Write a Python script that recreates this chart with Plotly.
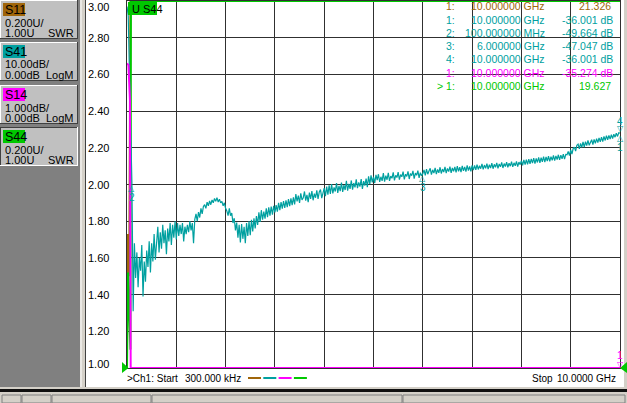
import numpy as np
import plotly.graph_objects as go

# =====================================================
# VNA SCREEN: S41 (LogM) WITH S11 / S14 / S44 CLIPPED
# =====================================================

# sweep (GHz)
start_ghz = 0.0003
stop_ghz = 10.0

# S41 transmission, dB (401 point sweep)
s41_db = [
    -1.5, -4.0, -20.0, -33.0, -49.7, -84.5,
    -66.0, -75.5, -68.5, -78.0, -70.0, -73.5, -66.5, -80.5, -71.0, -76.5, -68.0,
    -72.5, -65.5, -74.0, -66.0, -71.0, -63.5, -70.5, -66.5,
    -61.5, -68.5, -63.0, -67.5, -61.0, -66.0, -62.5, -69.0, -62.0, -65.5, -60.5, -66.5, -61.0, -64.5, -60.0, -65.0,
    -60.5, -64.0, -61.0, -63.5, -60.5, -65.5, -61.5, -63.5,
    -61.0, -63.0, -60.0, -62.5, -60.5, -66.0, -59.5,
    -58.0, -60.0, -57.5, -59.0, -56.5, -58.0, -56.0,
    -55.5, -56.5, -54.8, -55.8, -54.5, -55.5, -54.2, -55.0,
    -53.8, -54.6, -53.6, -54.8, -54.0, -55.0,
    -54.6, -55.8, -55.0, -56.5, -57.2, -58.5,
    -56.5, -58.5, -57.8, -60.5, -59.2, -62.5, -60.4, -64.5,
    -61.0, -65.8, -60.8, -64.8, -61.5, -66.0, -60.5, -64.0,
    -60.0, -63.8, -59.6, -62.8, -59.2, -62.0, -58.6, -61.0,
    -57.6, -60.2, -57.0, -59.6, -57.4, -59.3, -56.5, -58.9, -56.2, -58.5, -56.0, -58.2, -55.8, -57.6,
    -55.6, -57.4, -55.0, -57.0, -54.8, -56.6, -54.5, -56.4, -54.3, -56.2, -54.0, -55.9, -53.8, -55.6, -53.5, -55.4,
    -52.6, -54.6, -53.0, -55.0, -52.4, -54.2, -53.6, -51.9, -54.4, -52.8,
    -54.8, -52.2, -53.9, -51.8, -54.3, -52.5, -53.6, -51.6, -53.9, -52.0,
    -51.4, -53.7, -51.9,
    -51.0, -53.2, -50.6, -52.8, -50.2, -52.6, -49.9, -52.4, -50.8, -51.9,
    -49.6, -52.3, -50.4, -51.8, -49.5, -52.0, -50.2, -51.5, -49.0, -51.7,
    -49.8, -51.2, -48.9, -51.4, -49.6, -50.8, -48.6, -51.0, -49.4, -50.6,
    -48.5, -51.2, -49.1, -50.3, -48.4, -50.7,
    -47.8, -49.9, -47.5, -49.4, -47.9, -49.6, -47.4, -48.8, -47.2, -49.3,
    -47.9, -49.0, -46.9, -49.2, -47.6, -48.7, -46.8, -49.0, -47.7, -48.3,
    -46.7, -48.9, -47.5, -48.1, -46.6, -48.7, -47.3, -47.9, -46.5, -48.6,
    -47.2, -47.8, -46.4, -48.5, -47.0, -47.6, -46.3, -48.4, -46.9, -47.5,
    -46.2, -48.2, -46.8, -47.6, -47.05,
    -46.0, -47.5, -45.8, -47.2, -46.3, -45.6, -47.3, -46.0, -46.9, -45.5,
    -47.2, -45.9, -46.8, -45.3, -47.0, -45.8, -46.6, -45.2, -46.9, -45.6,
    -46.5, -45.1, -46.8, -45.5, -46.4, -45.2, -46.7, -45.0, -46.4, -45.3,
    -46.6, -44.9, -46.3, -45.2, -46.5, -44.8, -46.2, -45.1, -46.4, -44.8,
    -46.1,
    -44.8, -46.0, -44.6, -45.9, -44.9, -45.7, -44.4, -45.9, -44.7, -45.6,
    -44.3, -45.8, -44.6, -45.5, -44.2, -45.7, -44.5, -45.3, -44.1, -45.6,
    -44.4, -45.2, -44.0, -45.5, -44.3, -45.1, -43.9, -45.3, -44.2, -45.0,
    -43.8, -45.2, -44.1, -44.9, -43.7, -45.1, -43.9, -44.6,
    -43.5, -44.8, -43.3, -44.6, -43.2, -44.5, -43.1, -44.4, -43.0, -44.2,
    -42.8, -44.3, -42.9, -44.0, -42.6, -44.1, -42.7, -43.8, -42.4, -43.9,
    -42.5, -43.6, -42.3, -43.7, -42.4, -43.4, -42.1, -43.5, -42.2, -43.2,
    -41.9, -43.3, -42.0, -43.0, -41.7, -43.1, -41.8, -41.9,
    -41.0, -42.1, -40.6, -41.7, -40.2, -39.8, -40.9, -39.3,
    -39.0, -40.3, -38.8, -39.9, -38.4, -39.8, -38.3, -39.4, -38.0, -39.3,
    -38.3, -37.8, -39.1, -37.7, -38.8, -37.5, -38.6, -37.3, -38.4,
    -37.1, -38.3, -36.9, -38.0, -36.7, -37.8, -36.6, -37.6, -36.4, -37.5,
    -36.3, -37.1, -36.0, -36.9, -35.9, -36.0,
]
s41_freq = np.linspace(start_ghz, stop_ghz, len(s41_db))

# the other three traces are off-screen (clipped) apart from the first points
s11_freq = [0.0003, 0.02, 0.045, 0.07, 10.0]
s11_swr = [1.12, 1.73, 1.50, 24.0, 21.326]

s14_freq = [0.0003, 0.03, 0.06, 0.075, 10.0]
s14_db = [-1.7, -1.75, -2.7, -40.0, -35.274]

s44_freq = [0.0003, 0.02, 0.07, 0.08, 10.0]
s44_swr = [1.0, 1.52, 1.10, 28.0, 19.627]

# marker readout table
mk_num = ["1:", "1:", "2:", "3:", "4:", "1:", "> 1:"]
mk_freq = ["10.000000 GHz", "10.000000 GHz", "100.000000 MHz", "6.000000 GHz",
           "10.000000 GHz", "10.000000 GHz", "10.000000 GHz"]
mk_val = ["21.326", "-36.001 dB", "-49.664 dB", "-47.047 dB", "-36.001 dB", "-35.274 dB", "19.627"]
mk_trace = ["S11", "S41", "S41", "S41", "S41", "S14", "S44"]

# S41 markers on the trace
s41_mk_id = ["1", "2", "3", "4"]
s41_mk_freq = [10.0, 0.1, 6.0, 10.0]
s41_mk_db = [-36.001, -49.664, -47.047, -36.001]
s41_mk_above = [False, False, False, True]

# channel buttons on the left
panel_names = ["S11", "S41", "S14", "S44"]
panel_scale = ["0.200U/", "10.00dB/", "1.000dB/", "0.200U/"]
panel_ref = ["1.00U", "0.00dB", "0.00dB", "1.00U"]
panel_fmt = ["SWR", "LogM", "LogM", "SWR"]

y_ticks = [3.0, 2.8, 2.6, 2.4, 2.2, 2.0, 1.8, 1.6, 1.4, 1.2, 1.0]

colors = {"S11": "#a0660a", "S41": "#00a0a0", "S14": "#ff00ff", "S44": "#00c800"}
FONT = "Liberation Sans, Arial, sans-serif"

# plot area in screen pixels
W, H = 627, 403
PL, PR, PT, PB = 127, 620, 1, 368


def fx(x):
    return (x - PL) / (PR - PL)


def fy(y):
    return (PB - y) / (PB - PT)


fig = go.Figure()

# traces, values pinned to the screen edge like the analyzer does
fig.add_trace(go.Scatter(x=s11_freq, y=np.clip(s11_swr, 1.0, 3.0), mode="lines",
                         line=dict(color=colors["S11"], width=2), yaxis="y"))
fig.add_trace(go.Scatter(x=s41_freq, y=np.clip(s41_db, -100, 0), mode="lines",
                         line=dict(color=colors["S41"], width=1.2), yaxis="y2"))
fig.add_trace(go.Scatter(x=s14_freq, y=np.clip(s14_db, -10, 0), mode="lines",
                         line=dict(color=colors["S14"], width=2), yaxis="y3"))
fig.add_trace(go.Scatter(x=s44_freq, y=np.clip(s44_swr, 1.0, 3.0), mode="lines",
                         line=dict(color=colors["S44"], width=2), yaxis="y"))

shapes = []
annotations = []


def rect(x0, y0, x1, y1, fill, line=None):
    shapes.append(dict(type="rect", xref="paper", yref="paper",
                       x0=fx(x0), x1=fx(x1), y0=fy(y1), y1=fy(y0),
                       fillcolor=fill, line=dict(width=1 if line else 0, color=line or fill),
                       layer="above"))


def seg(x0, y0, x1, y1, color, width=1):
    shapes.append(dict(type="line", xref="paper", yref="paper",
                       x0=fx(x0), x1=fx(x1), y0=fy(y0), y1=fy(y1),
                       line=dict(color=color, width=width), layer="above"))


def label(x, y, text, color="black", size=10.5, anchor="left", family=FONT):
    annotations.append(dict(xref="paper", yref="paper", x=fx(x), y=fy(y), text=text,
                            showarrow=False, xanchor=anchor, yanchor="middle",
                            font=dict(family=family, size=size, color=color)))


# window frame: left panel, separator, right strip, status bar
rect(0, 0, 80, 387, "#808080")
rect(80, 0, 86, 387, "#d4d0c8")
seg(81, 0, 81, 387, "#ffffff")
seg(85.5, 0, 85.5, 387, "#404040")
rect(624, 0, 627, 387, "#d4d0c8")
rect(0, 387, 627, 403, "#d4d0c8")
rect(0, 389, 627, 392, "#101010")
for sx0, sx1 in [(2, 21), (22, 51), (52, 151), (152, 402), (403, 625)]:
    rect(sx0, 395, sx1, 403, "#d4d0c8", "#808080")

# channel buttons
box_tops = [0, 42, 85, 127]
for i, name in enumerate(panel_names):
    t = box_tops[i]
    b = t + 39
    rect(0, t, 78, b, "#c0c0c0")
    hi, lo = ("#404040", "#ffffff") if i == 3 else ("#ffffff", "#404040")
    seg(0.5, t, 0.5, b, hi)
    seg(0, t + 0.5, 78, t + 0.5, hi)
    seg(77.5, t, 77.5, b, lo)
    seg(0, b - 0.5, 78, b - 0.5, lo)
    rect(3, t + 3, 25, t + 16, colors[name])
    label(3.5, t + 10, name, size=12.5)
    label(2.5, t + 22.5, panel_scale[i], size=11)
    label(2.5, t + 33, panel_ref[i], size=11)
    label(76, t + 33, panel_fmt[i], size=11, anchor="right")

# y tick labels
for v in y_ticks:
    shift = -6 if v == y_ticks[0] else (4 if v == y_ticks[-1] else 0)
    annotations.append(dict(xref="paper", yref="y", x=fx(110.5), y=v, text=f"{v:.2f}",
                            showarrow=False, xanchor="right", yanchor="middle", yshift=shift,
                            font=dict(family=FONT, size=11, color="black")))

# marker readouts
for i in range(len(mk_num)):
    c = colors[mk_trace[i]]
    ry = 6.3 + i * 13.3
    label(456.5, ry, mk_num[i], c, anchor="right")
    label(547, ry, mk_freq[i], c, anchor="right")
    label(615 if mk_val[i].endswith("dB") else 613, ry, mk_val[i], c, anchor="right")

# S41 marker symbols
for i, mid in enumerate(s41_mk_id):
    up = s41_mk_above[i]
    for txt, sh, sz, fam in [("▽" if up else "△", 5 if up else -5, 8, "DejaVu Sans"),
                             (mid, 12 if up else -14, 10, FONT)]:
        annotations.append(dict(xref="x", yref="y2", x=s41_mk_freq[i], y=s41_mk_db[i], text=txt,
                                showarrow=False, xanchor="center", yanchor="middle", yshift=sh,
                                font=dict(family=fam, size=sz, color=colors["S41"])))

# S14 marker 1, pinned to the bottom edge
for txt, sh, sz, fam in [("▽", 4, 8, "DejaVu Sans"), ("1", 13, 10, FONT)]:
    annotations.append(dict(xref="x", yref="y3", x=stop_ghz, y=-10, text=txt,
                            showarrow=False, xanchor="center", yanchor="middle", yshift=sh,
                            font=dict(family=fam, size=sz, color=colors["S14"])))

# active trace tag
rect(128, 2, 157, 15, colors["S44"])
label(129.5, 8.5, "U S44", size=11)

# reference position arrows
shapes.append(dict(type="path", xref="paper", yref="paper", fillcolor=colors["S44"],
                   line=dict(width=0),
                   path=f"M {fx(122)} {fy(362)} L {fx(128.5)} {fy(368)} L {fx(122)} {fy(373)} Z"))
shapes.append(dict(type="path", xref="paper", yref="paper", fillcolor=colors["S44"],
                   line=dict(width=0),
                   path=f"M {fx(627)} {fy(362)} L {fx(620)} {fy(368)} L {fx(627)} {fy(373)} Z"))

# sweep info along the bottom
label(125, 378, "&gt;Ch1: Start", size=10)
label(243, 378, "300.000 kHz", anchor="right", size=10)
for k, name in enumerate(panel_names):
    x0 = 248 + k * 15.3
    seg(x0, 378, x0 + 13, 378, colors[name], width=2)
label(530, 378, "Stop", size=10)
label(618, 378, "10.0000 GHz", anchor="right", size=10)

grid = "#303030"
fig.update_layout(
    width=W, height=H,
    margin=dict(l=PL, r=W - PR, t=PT, b=H - PB, pad=0),
    paper_bgcolor="white",
    plot_bgcolor="white",
    showlegend=False,
    hovermode=False,
    font=dict(family=FONT, size=11, color="black"),
    xaxis=dict(range=[start_ghz, stop_ghz], tick0=start_ghz, dtick=(stop_ghz - start_ghz) / 10,
               showticklabels=False, ticks="", showgrid=True, gridcolor=grid, gridwidth=1,
               zeroline=False, showline=True, linecolor=grid, linewidth=1, mirror=True),
    yaxis=dict(range=[1.0, 3.0], dtick=0.2, showticklabels=False, ticks="", showgrid=True,
               gridcolor=grid, gridwidth=1, zeroline=False, showline=True, linecolor=grid,
               linewidth=1, mirror=True),
    yaxis2=dict(range=[-100, 0], overlaying="y", visible=False),
    yaxis3=dict(range=[-10, 0], overlaying="y", visible=False),
    shapes=shapes,
    annotations=annotations,
)

# the analyzer screen fills the window: drop the page margin
fig.write_html("out.html", config={"displayModeBar": False},
               post_script="document.body.style.margin='0';")
